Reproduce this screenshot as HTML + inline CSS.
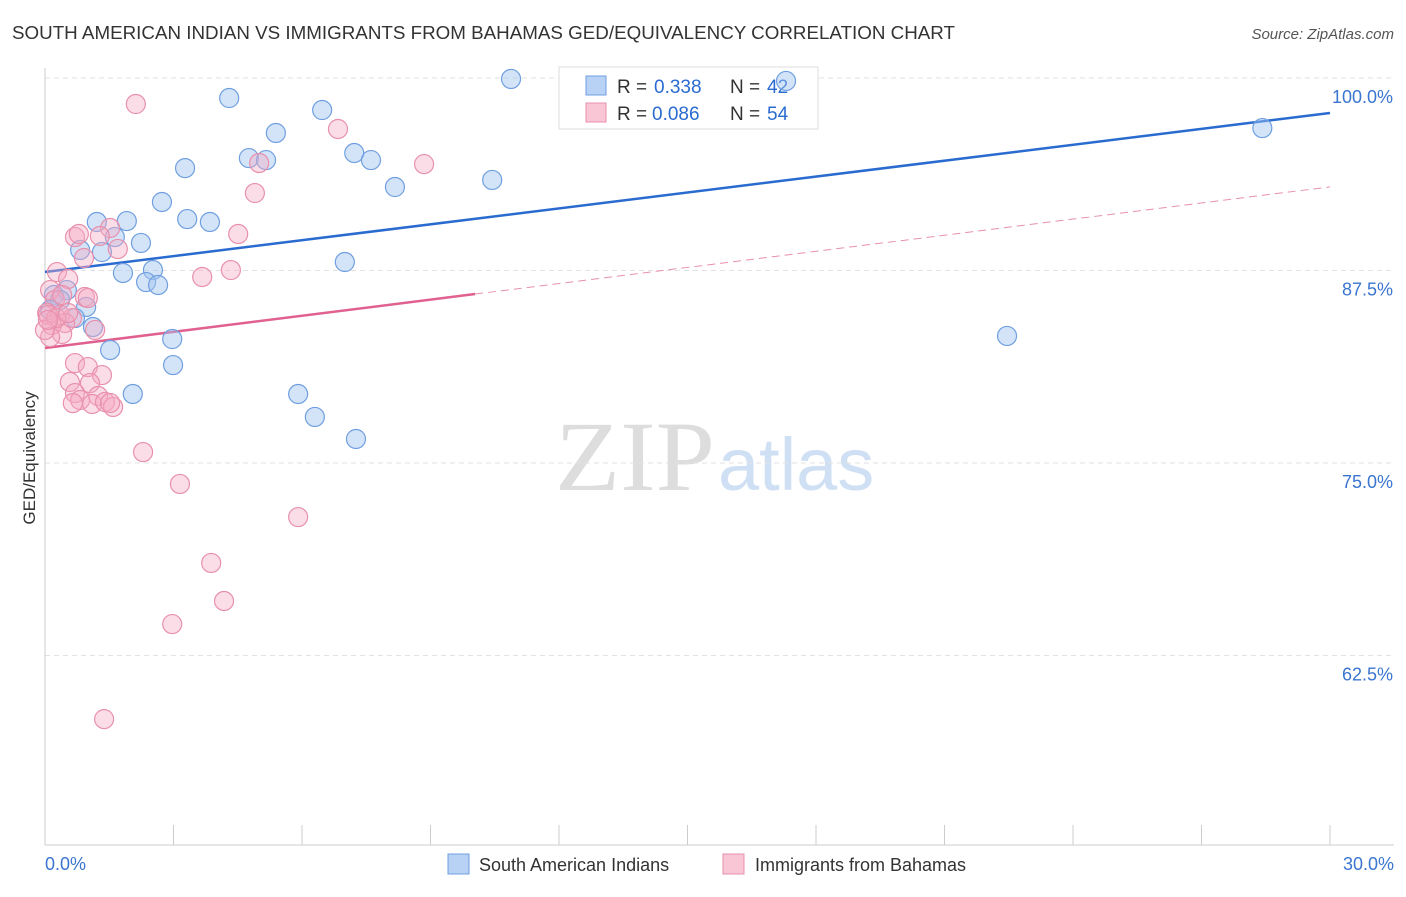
<!DOCTYPE html>
<html><head><meta charset="utf-8"><style>
body{margin:0;background:#fff;font-family:"Liberation Sans",sans-serif;}
</style></head><body>
<svg width="1406" height="892" xmlns="http://www.w3.org/2000/svg" id="svg">
<text x="12" y="39" font-size="18" fill="#333" textLength="943" lengthAdjust="spacingAndGlyphs">SOUTH AMERICAN INDIAN VS IMMIGRANTS FROM BAHAMAS GED/EQUIVALENCY CORRELATION CHART</text>
<text x="1394" y="39" font-size="15" fill="#555" font-style="italic" text-anchor="end">Source: ZipAtlas.com</text>
<text x="555" y="490" font-size="100" fill="#ddd" textLength="160" lengthAdjust="spacingAndGlyphs" font-family="Liberation Serif">ZIP</text>
<text x="718" y="490" font-size="74" fill="#cfe0f5">atlas</text>
<text x="35" y="458" font-size="17" fill="#333" transform="rotate(-90 35 458)" text-anchor="middle">GED/Equivalency</text>
<g id="grid"></g><g id="axes"></g>
<g>
<rect x="559" y="67" width="259" height="62" fill="#fff" stroke="#ddd"/>
<rect x="586" y="76" width="20" height="19" fill="#b8d2f5" stroke="#6f9fe0"/>
<rect x="586" y="103" width="20" height="19" fill="#f9c6d6" stroke="#e890ac"/>
<text x="617" y="93" font-size="19" fill="#333">R =</text>
<text x="654" y="93" font-size="19" fill="#2a6bd0">0.338</text>
<text x="730" y="93" font-size="19" fill="#333">N =</text>
<text x="767" y="93" font-size="19" fill="#2a6bd0">42</text>
<text x="617" y="120" font-size="19" fill="#333">R =</text>
<text x="652" y="120" font-size="19" fill="#2a6bd0">0.086</text>
<text x="730" y="120" font-size="19" fill="#333">N =</text>
<text x="767" y="120" font-size="19" fill="#2a6bd0">54</text>
</g>
<g id="trend"></g><g id="pts"></g>
<g>
<rect x="448" y="854" width="21" height="20" fill="#b8d2f5" stroke="#6f9fe0"/>
<text x="479" y="871" font-size="18" fill="#333">South American Indians</text>
<rect x="723" y="854" width="21" height="20" fill="#f9c6d6" stroke="#e890ac"/>
<text x="755" y="871" font-size="18" fill="#333">Immigrants from Bahamas</text>
</g>
</svg>
<script>
const blueX=[10.88,17.30,4.30,6.47,5.39,4.76,5.16,7.22,7.61,3.27,8.17,10.44,28.42,2.73,3.32,3.85,1.21,1.91,1.63,2.24,0.82,1.33,1.82,2.52,2.36,2.64,7.00,0.21,0.51,0.35,0.96,0.70,1.12,2.97,1.52,2.99,2.05,5.91,6.30,7.26,22.46,0.12];
const blueY=[99.94,99.81,98.70,97.92,96.43,94.80,94.67,95.13,94.67,94.15,92.92,93.38,96.75,91.95,90.84,90.65,90.65,90.71,89.67,89.29,88.83,88.70,87.34,87.53,86.75,86.56,88.05,85.91,86.23,85.58,85.13,84.41,83.83,83.05,82.34,81.36,79.48,79.48,77.99,76.56,83.25,84.93];
const pinkX=[2.12,6.84,8.85,5.00,4.90,4.51,4.34,3.67,0.70,0.79,1.52,1.28,1.70,0.91,0.28,0.54,0.12,0.93,0.23,0.05,0.35,0.63,0.47,0.16,1.17,0.40,0.12,0.70,1.00,1.33,0.58,1.05,0.70,1.24,0.82,0.65,1.10,1.40,1.59,2.29,3.15,5.91,3.88,4.18,2.97,1.38,0.07,0.26,0.54,0.00,1.00,0.40,0.07,1.52];
const pinkY=[98.31,96.69,94.41,94.48,92.53,89.87,87.53,87.08,89.67,89.87,90.26,89.74,88.90,88.31,87.40,86.95,86.23,85.78,85.58,84.74,84.61,84.41,84.09,83.96,83.64,83.38,83.18,81.49,81.23,80.71,80.26,80.19,79.54,79.35,79.09,78.89,78.83,78.96,78.64,75.71,73.64,71.49,68.51,66.04,64.54,58.37,84.61,84.41,84.74,83.64,85.71,85.91,84.29,78.90];
const yTicks=[100,87.5,75,62.5];
const yTickLabels=["100.0%","87.5%","75.0%","62.5%"];
const blueTrend=[87.40,97.73];
const pinkTrend=[82.47,92.93];
const pinkSolidEnd=10.04;
const NS="http://www.w3.org/2000/svg";
const sx=v=>45+v/30*1285;
const sy=v=>78+(100-v)/12.5*192.5;
function mk(tag,attrs,parent){const e=document.createElementNS(NS,tag);for(const k in attrs)e.setAttribute(k,attrs[k]);document.getElementById(parent).appendChild(e);return e;}
yTicks.forEach((t,i)=>{
  const l=mk('line',{x1:45,x2:1394,y1:sy(t),y2:sy(t),stroke:'#e2e2e2','stroke-dasharray':'5,4'},'grid');
  
  
  const tx=mk('text',{x:1393,y:sy(t)+25,'font-size':18,fill:'#3a75d0','text-anchor':'end'},'grid');
  tx.textContent=yTickLabels[i];
  
  
});
mk('line',{x1:45,x2:45,y1:68,y2:845,stroke:'#ccc'},'axes');
mk('line',{x1:45,x2:1394,y1:845,y2:845,stroke:'#ccc'},'axes');
for(let i=0;i<=10;i++){const t=mk('line',{x1:sx(i*3),x2:sx(i*3),y1:825,y2:845,stroke:'#ccc'},'axes');

}
const x0=mk('text',{x:45,y:870,'font-size':18,fill:'#3a75d0'},'axes');x0.textContent='0.0%';


const x1=mk('text',{x:1394,y:870,'font-size':18,fill:'#3a75d0','text-anchor':'end'},'axes');x1.textContent='30.0%';


function dot(x,y,f,s){const c=mk('circle',{cx:sx(x),cy:sy(y),r:9.5,fill:f,stroke:s,'stroke-width':1.2},'pts');return c;}
blueX.forEach((x,i)=>{const c=dot(x,blueY[i],'rgba(160,196,240,0.45)','#6f9fe0');

});
pinkX.forEach((x,i)=>{const c=dot(x,pinkY[i],'rgba(245,170,195,0.4)','#e890ac');

});
const bl=mk('line',{x1:sx(0),y1:sy(blueTrend[0]),x2:sx(30),y2:sy(blueTrend[1]),stroke:'#2a6bd0','stroke-width':2.5},'trend');


const pe=pinkTrend[0]+(pinkTrend[1]-pinkTrend[0])*pinkSolidEnd/30;
const pl=mk('line',{x1:sx(0),y1:sy(pinkTrend[0]),x2:sx(pinkSolidEnd),y2:sy(pe),stroke:'#e06090','stroke-width':2.5},'trend');


const pd=mk('line',{x1:sx(pinkSolidEnd),y1:sy(pe),x2:sx(30),y2:sy(pinkTrend[1]),stroke:'#e890ac','stroke-width':1,'stroke-dasharray':'8,5'},'trend');


</script>
</body></html>
